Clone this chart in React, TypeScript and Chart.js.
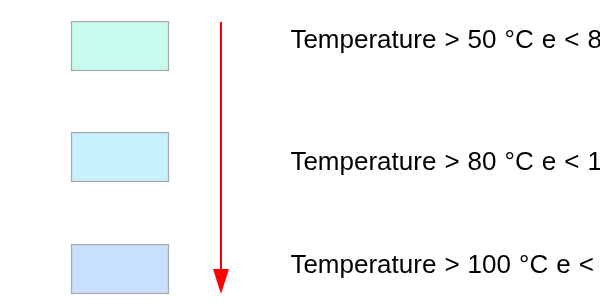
import React, { useEffect, useRef } from "react";
import { Chart, registerables } from "chart.js";

Chart.register(...registerables);

// Legend entries (top to bottom)
const labels = [
  "Temperature > 50 °C e < 80 °C",
  "Temperature > 80 °C e < 100 °C",
  "Temperature > 100 °C e < 120 °C",
];
const boxCenters = [46, 157, 269];
const boxStart = [71, 71, 71];
const boxEnd = [169, 169, 169];
const boxColors = ["#c6fdef", "#c8f1fe", "#c8dffd"];
const textX = [290.4, 290.4, 290.4];
const textBaselines = [48, 170, 273];
// Arrow: x position, start and tip
const arrowX = 221;
const arrowStart = 22;
const arrowTip = 294;

export default function App() {
  const ref = useRef<HTMLCanvasElement | null>(null);

  useEffect(() => {
    if (!ref.current) return;
    const overlay = {
      id: "overlay",
      afterDatasetsDraw(chart: any) {
        const { ctx, scales } = chart;
        const xs = scales.x;
        const ys = scales.y;
        ctx.save();
        // arrow
        const ax = xs.getPixelForValue(arrowX);
        const ay0 = ys.getPixelForValue(arrowStart);
        const ay1 = ys.getPixelForValue(arrowTip);
        const headLen = 25;
        const headHalf = 8;
        ctx.strokeStyle = "#ff0000";
        ctx.fillStyle = "#ff0000";
        ctx.lineWidth = 2;
        ctx.beginPath();
        ctx.moveTo(ax, ay0);
        ctx.lineTo(ax, ay1 - headLen + 1);
        ctx.stroke();
        ctx.beginPath();
        ctx.moveTo(ax - headHalf, ay1 - headLen);
        ctx.lineTo(ax + headHalf, ay1 - headLen);
        ctx.lineTo(ax, ay1);
        ctx.closePath();
        ctx.fill();
        // texts
        ctx.fillStyle = "#000000";
        ctx.font = "26px 'Liberation Sans', Arial, sans-serif";
        try {
          (ctx as any).wordSpacing = "0.8px";
        } catch (e) {}
        ctx.textBaseline = "alphabetic";
        ctx.textAlign = "left";
        labels.forEach((t, i) => {
          ctx.fillText(t, xs.getPixelForValue(textX[i]), ys.getPixelForValue(textBaselines[i]));
        });
        ctx.restore();
      },
    };

    const chart = new Chart(ref.current, {
      type: "bar",
      data: {
        datasets: [
          {
            data: boxCenters.map((y, i) => ({ x: [boxStart[i], boxEnd[i]], y })) as any,
            backgroundColor: boxColors,
            borderColor: "#a8a8a8",
            borderWidth: 1.5,
            borderSkipped: false,
            barThickness: 50,
          },
        ],
      },
      options: {
        indexAxis: "y",
        animation: false,
        responsive: false,
        layout: { padding: 0 },
        plugins: { legend: { display: false }, tooltip: { enabled: false } },
        scales: {
          x: { type: "linear", min: 0, max: 600, offset: false, display: false },
          y: { type: "linear", min: 0, max: 307, reverse: true, offset: false, display: false },
        },
      },
      plugins: [overlay],
    });
    return () => chart.destroy();
  }, []);

  return (
    <div style={{ position: "absolute", left: 0, top: 0, width: 600, height: 307, background: "#fff" }}>
      <canvas ref={ref} width={600} height={307} style={{ display: "block" }} />
    </div>
  );
}
